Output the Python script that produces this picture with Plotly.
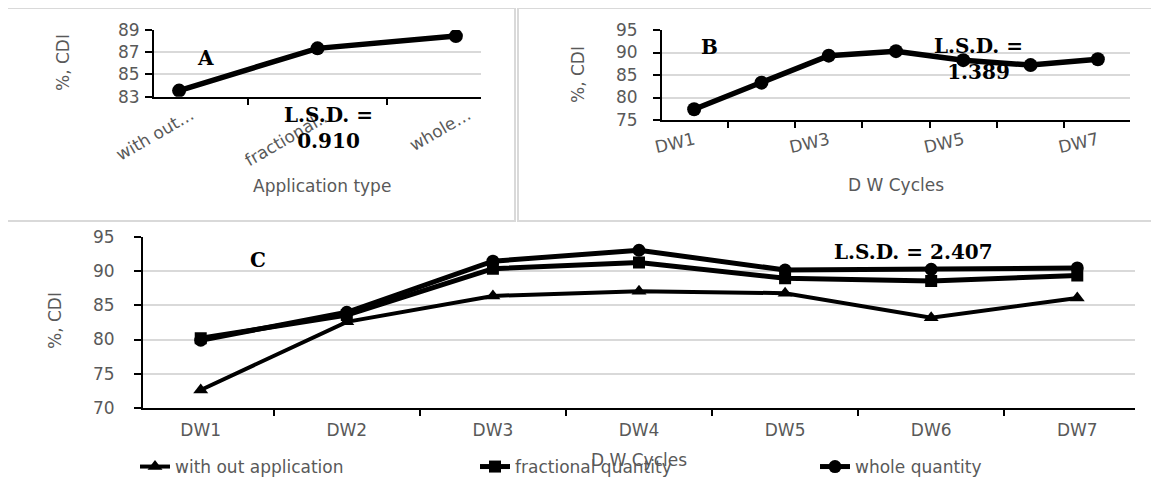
import plotly.graph_objects as go

# ---------------- data ----------------
app_types = ["with out application", "fractional quantity", "whole quantity"]
app_ticktext = ["with out…", "fractional…", "whole…"]
cdi_by_app = [83.55, 87.35, 88.45]

cycles = ["DW1", "DW2", "DW3", "DW4", "DW5", "DW6", "DW7"]
cycles_ticktext_b = ["DW1", "", "DW3", "", "DW5", "", "DW7"]
cdi_by_cycle = [77.4, 83.3, 89.3, 90.3, 88.3, 87.2, 88.5]

without_app = [72.6, 82.6, 86.4, 87.1, 86.8, 83.2, 86.1]
fractional_q = [80.2, 83.6, 90.4, 91.3, 89.0, 88.6, 89.4]
whole_q = [79.9, 84.0, 91.5, 93.1, 90.2, 90.3, 90.5]

W, H = 1159, 490
OFF = 8  # page body margin
GRAY = "#595959"
GRID = "#d9d9d9"
SANS = "DejaVu Sans"
SERIF = "DejaVu Serif"


def px(x):
    return (x - OFF) / W


def py(y):
    return 1 - (y - OFF) / H


fig = go.Figure()

# Panel A
fig.add_trace(go.Scatter(x=app_types, y=cdi_by_app, mode="lines+markers",
                         line=dict(color="black", width=5.5),
                         marker=dict(symbol="circle", size=14, color="black"),
                         xaxis="x", yaxis="y", showlegend=False))
# Panel B
fig.add_trace(go.Scatter(x=cycles, y=cdi_by_cycle, mode="lines+markers",
                         line=dict(color="black", width=5.5),
                         marker=dict(symbol="circle", size=14, color="black"),
                         xaxis="x2", yaxis="y2", showlegend=False))
# Panel C
fig.add_trace(go.Scatter(x=cycles, y=without_app, mode="lines+markers",
                         name="with out application",
                         line=dict(color="black", width=4),
                         marker=dict(symbol="triangle-up", size=13, color="black"),
                         xaxis="x3", yaxis="y3"))
fig.add_trace(go.Scatter(x=cycles, y=fractional_q, mode="lines+markers",
                         name="fractional quantity",
                         line=dict(color="black", width=5),
                         marker=dict(symbol="square", size=12, color="black"),
                         xaxis="x3", yaxis="y3"))
fig.add_trace(go.Scatter(x=cycles, y=whole_q, mode="lines+markers",
                         name="whole quantity",
                         line=dict(color="black", width=5),
                         marker=dict(symbol="circle", size=13, color="black"),
                         xaxis="x3", yaxis="y3"))

tickfont = dict(family=SANS, size=17, color=GRAY)


def xax(domain, anchor, tickvals, ticktext, angle, standoff=0, shift=0):
    return dict(domain=domain, anchor=anchor, type="category",
                tickmode="array", tickvals=tickvals, ticktext=ticktext,
                tickangle=angle, tickfont=tickfont,
                ticklabelstandoff=standoff, ticklabelshift=shift,
                showline=True, linecolor="black", linewidth=2,
                ticks="outside", tickson="boundaries", ticklen=6,
                tickcolor="black", tickwidth=2, showgrid=False,
                zeroline=False, fixedrange=True, automargin=False)


def yax(domain, anchor, rng, dtick, tick0, standoff=0):
    return dict(domain=domain, anchor=anchor, range=rng, dtick=dtick,
                tick0=tick0, tickmode="linear", ticklabelstandoff=standoff,
                tickfont=tickfont, showline=True, linecolor="black",
                linewidth=2, ticks="outside", ticklen=7, tickcolor="black",
                tickwidth=2, showgrid=True, gridcolor=GRID, gridwidth=1.5,
                zeroline=False, fixedrange=True, automargin=False)


fig.update_layout(
    width=W, height=H, autosize=False,
    margin=dict(l=0, r=0, t=0, b=0, pad=0),
    paper_bgcolor="white", plot_bgcolor="white",
    xaxis=xax([px(154), px(481)], "y", app_types, app_ticktext, -30, 0, 12),
    yaxis=yax([py(96.7), py(30)], "x", [83, 89], 2, 83, 2),
    xaxis2=xax([px(662), px(1130)], "y2", cycles, cycles_ticktext_b, -13, 2),
    yaxis2=yax([py(120), py(30)], "x2", [75, 95], 5, 75, 12),
    xaxis3=xax([px(143), px(1135)], "y3", cycles, cycles, 0, 6),
    yaxis3=yax([py(407.7), py(237.3)], "x3", [70, 95], 5, 70, 16),
    legend=dict(orientation="h", x=px(135), y=py(449), xanchor="left",
                yanchor="top", entrywidth=295, entrywidthmode="pixels",
                font=dict(family=SANS, size=17, color=GRAY),
                bgcolor="rgba(0,0,0,0)", traceorder="normal"),
)

# panel frames
shapes = [
    dict(type="rect", xref="paper", yref="paper", x0=px(7), x1=px(515),
         y0=py(221), y1=py(8), line=dict(color=GRID, width=2)),
    dict(type="rect", xref="paper", yref="paper", x0=px(518), x1=px(1175),
         y0=py(221), y1=py(8), line=dict(color=GRID, width=2)),
    dict(type="line", xref="paper", yref="paper", x0=px(7), x1=px(7),
         y0=py(222), y1=py(500), line=dict(color=GRID, width=2)),
]
fig.update_layout(shapes=shapes)

title_font = dict(family=SANS, size=17, color=GRAY)
serif_font = dict(family=SERIF, size=20, color="black")
ann = []


def add(text, x, y, font, angle=0):
    ann.append(dict(text=text, x=px(x), y=py(y), xref="paper", yref="paper",
                    showarrow=False, font=font, textangle=angle,
                    xanchor="center", yanchor="middle", align="center"))


add("%, CDI", 63, 63, title_font, -90)
add("Application type", 322, 186, title_font)
add("%, CDI", 578, 75, title_font, -90)
add("D W Cycles", 896, 185, title_font)
add("%, CDI", 55, 321, title_font, -90)
add("D W Cycles", 639, 460, title_font)
add("<b>A</b>", 205, 58, serif_font)
add("<b>L.S.D. =<br>0.910</b>", 328, 128, serif_font)
add("<b>B</b>", 709, 47, serif_font)
add("<b>L.S.D. =<br>1.389</b>", 978, 59, serif_font)
add("<b>C</b>", 258, 260, serif_font)
add("<b>L.S.D. = 2.407</b>", 913, 252, serif_font)
fig.update_layout(annotations=ann)

fig.write_html("out.html")
